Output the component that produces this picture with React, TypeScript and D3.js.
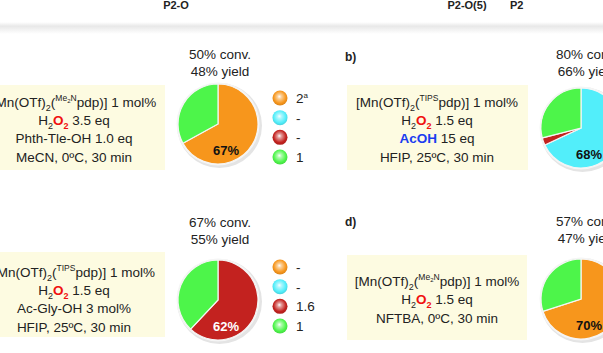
import React from 'react';
import * as d3 from 'd3';

// series order: orange (2a), cyan, red, green (1)
const seriesNames = ['orange', 'cyan', 'red', 'green'];
const seriesColors = ['#f7961c', '#52eefa', '#c3221f', '#4df54a'];

const valuesA = [67, 0, 0, 33];
const valuesB = [0, 68, 3, 29];
const valuesC = [0, 0, 62, 38];
const valuesD = [70, 0, 0, 30];

const pieLabels = ['67%', '68%', '62%', '70%'];
const convLabels = ['50% conv.', '80% conv.', '67% conv.', '57% conv.'];
const yieldLabels = ['48% yield', '66% yield', '55% yield', '47% yield'];

const legendA = ['2ª', '-', '-', '1'];
const legendC = ['-', '-', '1.6', '1'];

const headers = ['P2-O', 'P2-O(5)', 'P2'];

const FONT = '"Liberation Sans", Arial, Helvetica, sans-serif';

// catalyst line: [Mn(OTf)2(XXpdp)] 1 mol%
function CatLine({ x, y, lig }: { x: number; y: number; lig: 'Me2N' | 'TIPS' }) {
  return (
    <text x={x} y={y} textAnchor="middle" fontSize={13.5} fill="#222">
      [Mn(OTf)
      <tspan dy={4} fontSize={9}>2</tspan>
      <tspan dy={-4}>(</tspan>
      {lig === 'TIPS' ? (
        <tspan dy={-6} fontSize={8.5}>TIPS</tspan>
      ) : (
        <>
          <tspan dy={-6} fontSize={8.5}>Me</tspan>
          <tspan dy={1.5} fontSize={6}>2</tspan>
          <tspan dy={-1.5} fontSize={8.5}>N</tspan>
        </>
      )}
      <tspan dy={6}>pdp)] 1 mol%</tspan>
    </text>
  );
}

function H2O2({ x, y, eq }: { x: number; y: number; eq: string }) {
  return (
    <text x={x} y={y} textAnchor="middle" fontSize={13.5} fill="#222">
      H
      <tspan dy={4} fontSize={9}>2</tspan>
      <tspan dy={-4} fill="#f01010" fontWeight="bold">O</tspan>
      <tspan dy={4} fontSize={9} fill="#f01010" fontWeight="bold">2</tspan>
      <tspan dy={-4}>{' ' + eq}</tspan>
    </text>
  );
}

function Pie({ cx, cy, values, label, labelColor }: { cx: number; cy: number; values: number[]; label: string; labelColor: string }) {
  const r = 40;
  const pie = d3.pie<number>().sort(null).value(d => d);
  const arc = d3.arc<d3.PieArcDatum<number>>().innerRadius(0).outerRadius(r);
  const arcs = pie(values);
  return (
    <g transform={`translate(${cx},${cy})`}>
      <circle cx={1.5} cy={1.5} r={r + 2.5} fill="#e4e4e4" />
      <circle r={r + 1.5} fill="#f5f5f5" />
      {arcs.map((a, i) => a.value > 0 ? (
        <path key={i} d={arc(a) || ''} fill={seriesColors[i]} stroke="#f5f5f5" strokeWidth={1.2} />
      ) : null)}
      <text x={8} y={31} textAnchor="middle" fontSize={13} fontWeight="bold" fill={labelColor}>{label}</text>
    </g>
  );
}

function Legend({ x, y, labels }: { x: number; y: number; labels: string[] }) {
  const yScale = d3.scalePoint<number>().domain(d3.range(labels.length)).range([0, 59]);
  return (
    <g transform={`translate(${x},${y})`}>
      {labels.map((l, i) => (
        <g key={i} transform={`translate(0,${yScale(i)})`}>
          <circle r={7.5} fill={`url(#ball-${seriesNames[i]})`} />
          <text x={16} y={5} fontSize={13.5} fill="#222">
            {l === '2ª' ? (<>2<tspan dy={-5} fontSize={8}>a</tspan></>) : l}
          </text>
        </g>
      ))}
    </g>
  );
}

function ConvYield({ x, y, i }: { x: number; y: number; i: number }) {
  return (
    <g>
      <text x={x} y={y} textAnchor="middle" fontSize={13.5} fill="#222">{convLabels[i]}</text>
      <text x={x} y={y + 17} textAnchor="middle" fontSize={13.5} fill="#222">{yieldLabels[i]}</text>
    </g>
  );
}

export default function App() {
  const W = 603, H = 353;
  const box = '#fdfbe1';
  return (
    <svg width={W} height={H} style={{ position: 'absolute', left: 0, top: 0 }} fontFamily={FONT}>
      <defs>
        {seriesNames.map((n, i) => (
          <radialGradient key={n} id={`ball-${n}`} cx="0.5" cy="0.45" r="0.55" fx="0.45" fy="0.4">
            <stop offset="0" stopColor="#ffffff" />
            <stop offset="0.25" stopColor={d3.interpolateRgb('#ffffff', seriesColors[i])(0.45)} />
            <stop offset="0.75" stopColor={seriesColors[i]} />
            <stop offset="1" stopColor={d3.color(seriesColors[i])!.darker(0.35).toString()} />
          </radialGradient>
        ))}
        <linearGradient id="band" x1="0" y1="0" x2="0" y2="1">
          <stop offset="0" stopColor="#ffffff" />
          <stop offset="0.35" stopColor="#e8e8e8" />
          <stop offset="1" stopColor="#ffffff" />
        </linearGradient>
      </defs>
      <rect width={W} height={H} fill="#fff" />

      {/* header */}
      <text x={176} y={9} textAnchor="middle" fontSize={11} fontWeight="bold" fill="#222">{headers[0]}</text>
      <text x={467} y={9} textAnchor="middle" fontSize={11} fontWeight="bold" fill="#222">{headers[1]}</text>
      <text x={510} y={9} fontSize={11} fontWeight="bold" fill="#222">{headers[2]}</text>
      <rect x={0} y={22} width={W} height={12} fill="url(#band)" />

      {/* panel a */}
      <rect x={0} y={85} width={165} height={85} fill={box} />
      <CatLine x={74} y={107} lig="Me2N" />
      <H2O2 x={74} y={125} eq="3.5 eq" />
      <text x={74} y={143} textAnchor="middle" fontSize={13.5} fill="#222">Phth-Tle-OH 1.0 eq</text>
      <text x={74} y={162} textAnchor="middle" fontSize={13.5} fill="#222">MeCN, 0ºC, 30 min</text>
      <ConvYield x={220} y={59} i={0} />
      <Pie cx={218} cy={124} values={valuesA} label={pieLabels[0]} labelColor="#111" />
      <Legend x={280} y={98} labels={legendA} />

      {/* panel b */}
      <text x={345} y={61} fontSize={12} fontWeight="bold" fill="#222">b)</text>
      <rect x={347} y={85} width={181} height={85} fill={box} />
      <CatLine x={437} y={107} lig="TIPS" />
      <H2O2 x={437} y={125} eq="1.5 eq" />
      <text x={437} y={143} textAnchor="middle" fontSize={13.5} fill="#222">
        <tspan fill="#1a3cf0" fontWeight="bold">AcOH</tspan> 15 eq
      </text>
      <text x={437} y={162} textAnchor="middle" fontSize={13.5} fill="#222">HFIP, 25ºC, 30 min</text>
      <ConvYield x={587} y={59} i={1} />
      <Pie cx={581} cy={128} values={valuesB} label={pieLabels[1]} labelColor="#111" />

      {/* panel c */}
      <rect x={0} y={252} width={165} height={85} fill={box} />
      <CatLine x={74} y={277} lig="TIPS" />
      <H2O2 x={74} y={295} eq="1.5 eq" />
      <text x={74} y={313} textAnchor="middle" fontSize={13.5} fill="#222">Ac-Gly-OH 3 mol%</text>
      <text x={74} y={332} textAnchor="middle" fontSize={13.5} fill="#222">HFIP, 25ºC, 30 min</text>
      <ConvYield x={220} y={227} i={2} />
      <Pie cx={218} cy={300} values={valuesC} label={pieLabels[2]} labelColor="#fff" />
      <Legend x={280} y={267} labels={legendC} />

      {/* panel d */}
      <text x={345} y={226} fontSize={12} fontWeight="bold" fill="#222">d)</text>
      <rect x={347} y={255} width={180} height={85} fill={box} />
      <CatLine x={437} y={286} lig="Me2N" />
      <H2O2 x={437} y={304} eq="1.5 eq" />
      <text x={437} y={323} textAnchor="middle" fontSize={13.5} fill="#222">NFTBA, 0ºC, 30 min</text>
      <ConvYield x={587} y={226} i={3} />
      <Pie cx={581} cy={299} values={valuesD} label={pieLabels[3]} labelColor="#111" />
    </svg>
  );
}
